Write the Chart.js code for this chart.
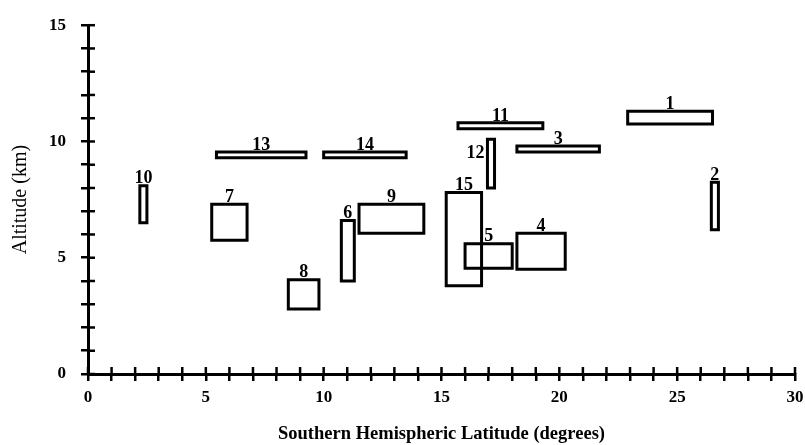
<!DOCTYPE html>
<html>
<head>
<meta charset="utf-8">
<script src="https://cdn.jsdelivr.net/npm/chart.js@4/dist/chart.umd.min.js"></script>
<style>
  body { margin: 0; background: #fff; }
  canvas { display: block; }
</style>
</head>
<body>
<canvas id="altChart" width="805" height="445"></canvas>
<script>
// sampling boxes: latitude span (deg S) and altitude span (km)
const boxIds  = ["1", "2", "3", "4", "5", "6", "7", "8", "9", "10", "11", "12", "13", "14", "15"];
const latFrom = [22.9, 26.45, 18.2, 18.2, 16.0, 10.75, 5.25, 8.5, 11.5, 2.2, 15.7, 16.95, 5.45, 10.0, 15.2];
const latTo   = [26.5, 26.75, 21.7, 20.25, 18.0, 11.3, 6.75, 9.8, 14.25, 2.5, 19.3, 17.25, 9.25, 13.5, 16.7];
const altFrom = [10.75, 6.2, 9.55, 4.5, 4.55, 4.0, 5.75, 2.8, 6.05, 6.5, 10.55, 8.0, 9.3, 9.3, 3.8];
const altTo   = [11.3, 8.25, 9.8, 6.05, 5.6, 6.6, 7.3, 4.05, 7.3, 8.1, 10.8, 10.1, 9.55, 9.55, 7.8];
// where the number sits relative to its box
const labelSide = ["top", "top", "top", "top", "top", "top", "top", "top", "top", "top", "top", "left", "top", "top", "top"];

const xTickLabels = [0, 5, 10, 15, 20, 25, 30];
const yTickLabels = [0, 5, 10, 15];

const SERIF = "'Liberation Serif', 'DejaVu Serif', serif";

// each box is an outline of its corners; the first edge is repeated so the start corner joins cleanly
const datasets = boxIds.map((id, i) => ({
    label: id,
    data: [
        { x: latFrom[i], y: altFrom[i] },
        { x: latTo[i], y: altFrom[i] },
        { x: latTo[i], y: altTo[i] },
        { x: latFrom[i], y: altTo[i] },
        { x: latFrom[i], y: altFrom[i] },
        { x: latTo[i], y: altFrom[i] },
    ],
    showLine: true,
    borderColor: "#000",
    borderWidth: 3,
    borderJoinStyle: "miter",
    pointRadius: 0,
    tension: 0,
    fill: false,
    clip: false,
}));

// inner half of the crossing tick marks
const innerTicks = {
    id: "innerTicks",
    afterDraw(chart) {
        const { ctx, scales: { x, y }, chartArea } = chart;
        ctx.save();
        ctx.strokeStyle = "#000";
        ctx.lineWidth = 2.5;
        x.ticks.forEach((t) => {
            const px = x.getPixelForValue(t.value);
            ctx.beginPath();
            ctx.moveTo(px, chartArea.bottom);
            ctx.lineTo(px, chartArea.bottom - 7);
            ctx.stroke();
        });
        y.ticks.forEach((t) => {
            const py = y.getPixelForValue(t.value);
            ctx.beginPath();
            ctx.moveTo(chartArea.left, py);
            ctx.lineTo(chartArea.left + 7, py);
            ctx.stroke();
        });
        ctx.restore();
    },
};

// box numbers
const boxNumbers = {
    id: "boxNumbers",
    afterDatasetsDraw(chart) {
        const { ctx, scales: { x, y } } = chart;
        ctx.save();
        ctx.fillStyle = "#000";
        ctx.font = "bold 18px " + SERIF;
        boxIds.forEach((id, i) => {
            if (labelSide[i] === "left") {
                const yv = altTo[i] - (altTo[i] - altFrom[i]) * 0.3;
                ctx.textAlign = "right";
                ctx.textBaseline = "middle";
                ctx.fillText(id, x.getPixelForValue(latFrom[i]) - 3, y.getPixelForValue(yv));
            } else {
                ctx.textAlign = "center";
                ctx.textBaseline = "bottom";
                ctx.fillText(id, x.getPixelForValue((latFrom[i] + latTo[i]) / 2), y.getPixelForValue(altTo[i]) + 2);
            }
        });
        ctx.restore();
    },
};

new Chart(document.getElementById("altChart"), {
    type: "scatter",
    data: { datasets },
    options: {
        responsive: false,
        animation: false,
        layout: { padding: { top: 19, right: 10, left: 0, bottom: 0 } },
        plugins: { legend: { display: false }, tooltip: { enabled: false } },
        scales: {
            x: {
                type: "linear",
                min: 0,
                max: 30,
                afterFit(scale) {
                    scale.height = 71;
                    scale.paddingRight = 0;
                },
                ticks: {
                    stepSize: 1,
                    autoSkip: false,
                    maxRotation: 0,
                    padding: 6,
                    color: "#000",
                    font: { family: SERIF, size: 17, weight: "bold" },
                    callback: (v) => (xTickLabels.includes(v) ? String(v) : ""),
                },
                grid: { drawOnChartArea: false, drawTicks: true, tickLength: 7, color: "#000", lineWidth: 2.5 },
                border: { display: true, color: "#000", width: 3 },
                title: {
                    display: true,
                    text: "Southern Hemispheric Latitude (degrees)",
                    color: "#000",
                    font: { family: SERIF, size: 18.5, weight: "bold" },
                    padding: { top: 0, bottom: 0 },
                },
            },
            y: {
                type: "linear",
                min: 0,
                max: 15,
                afterFit(scale) { scale.width = 88; },
                ticks: {
                    stepSize: 1,
                    autoSkip: false,
                    padding: 15,
                    color: "#000",
                    font: { family: SERIF, size: 17, weight: "bold" },
                    callback: (v) => (yTickLabels.includes(v) ? String(v) : ""),
                },
                grid: { drawOnChartArea: false, drawTicks: true, tickLength: 7, color: "#000", lineWidth: 2.5 },
                border: { display: true, color: "#000", width: 3 },
                title: {
                    display: true,
                    text: "Altitude (km)",
                    color: "#000",
                    font: { family: SERIF, size: 20 },
                    padding: { top: 9, bottom: 0 },
                },
            },
        },
    },
    plugins: [innerTicks, boxNumbers],
});
</script>
</body>
</html>
